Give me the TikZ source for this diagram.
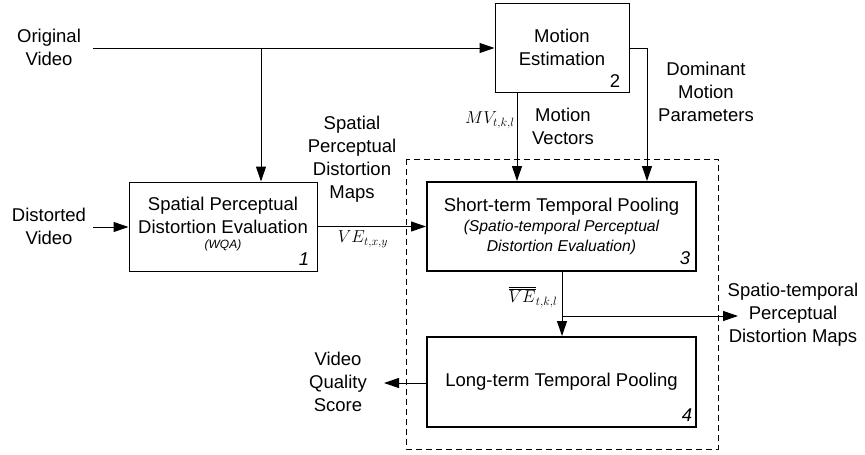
\documentclass[tikz,border=0pt]{standalone}
\usepackage{fontspec}
\setmainfont{Liberation Sans}
\usetikzlibrary{arrows.meta}
\tikzset{
  thinbox/.style={draw, line width=1pt, inner sep=0pt},
  thickbox/.style={draw, line width=2pt, inner sep=0pt},
  lbl/.style={align=center, font=\fontsize{18.5}{23}\selectfont, inner sep=0pt},
  sublbl/.style={align=center, font=\fontsize{15.7}{20}\selectfont\itshape, inner sep=0pt},
  numlbl/.style={font=\fontsize{18.5}{20}\selectfont\itshape, inner sep=0pt},
  arr/.style={line width=1pt, -{Triangle[length=15pt,width=10pt]}},
  mathlbl/.style={font=\fontsize{18}{20}\selectfont, inner sep=0pt}
}
\begin{document}
\begin{tikzpicture}[x=1pt,y=-1pt]
\useasboundingbox (0,0) rectangle (865,455);
% dashed container
\draw[line width=1pt, dash pattern=on 6pt off 4pt] (406,159) rectangle (718,449);
% boxes
\node[thinbox, minimum width=188pt, minimum height=89pt] (b1) at (223,226.5) {};
\node[thinbox, minimum width=134pt, minimum height=89pt] (b2) at (562,47.5) {};
\node[thickbox, minimum width=269pt, minimum height=89pt] (b3) at (561.5,226.5) {};
\node[thickbox, minimum width=269pt, minimum height=90pt] (b4) at (561.5,382) {};
% box texts
\node[lbl] (t1) at (223,215) {Spatial Perceptual\\Distortion Evaluation};
\node[font=\fontsize{12}{14}\selectfont\itshape, inner sep=0pt] (t1b) at (223,245) {(WQA)};
\node[numlbl] (n1) at (304,259) {1};
\node[lbl] (t2) at (562,47) {Motion\\Estimation};
\node[font=\fontsize{18.5}{20}\selectfont, inner sep=0pt] (n2) at (615,81) {2};
\node[lbl] (t3) at (561.5,207) {Short-term Temporal Pooling};
\node[sublbl] (t3b) at (561.5,237) {(Spatio-temporal Perceptual\\Distortion Evaluation)};
\node[numlbl] (n3) at (685,258) {3};
\node[lbl] (t4) at (561.5,382) {Long-term Temporal Pooling};
\node[numlbl] (n4) at (687,415) {4};
% outside labels
\node[lbl] (ovl) at (49,47) {Original\\Video};
\node[lbl] (dvl) at (49,226) {Distorted\\Video};
\node[lbl] (spm) at (352,159) {Spatial\\Perceptual\\Distortion\\Maps};
\node[mathlbl] (vel) at (363,239) {$VE_{t,x,y}$};
\node[mathlbl] (mvl) at (490,120) {$MV_{t,k,l}$};
\node[lbl] (mvt) at (563,126) {Motion\\Vectors};
\node[lbl] (dmp) at (706,92) {Dominant\\Motion\\Parameters};
\node[mathlbl] (vebar) at (533,297) {$\overline{\overline{VE}}_{t,k,l}$};
\node[lbl] (stm) at (793,315) {Spatio-temporal\\Perceptual\\Distortion Maps};
\node[lbl] (vqs) at (338,382) {Video\\Quality\\Score};
% coordinates
\coordinate (ov) at (93,48);
\coordinate (jn) at (261,48);
\coordinate (dv) at (93,227);
\coordinate (mvx) at (517,0);
\coordinate (dmx) at (647,48);
\coordinate (br) at (562,316);
\coordinate (stend) at (738,316);
\coordinate (vqend) at (384,383);
% connectors
\draw[arr] (ov) -- (ov -| b2.west);
\draw[arr] (jn) -- (jn |- b1.north);
\draw[arr] (dv) -- (dv -| b1.west);
\draw[arr] (b1.east) -- (b3.west);
\draw[arr] (b2.south -| mvx) -- (b3.north -| mvx);
\draw[arr] (dmx -| b2.east) -- (dmx) -- (dmx |- b3.north);
\draw[arr] (b3.south -| br) -- (b4.north -| br);
\draw[arr] (br) -- (stend);
\draw[arr] (vqend -| b4.west) -- (vqend);
\end{tikzpicture}
\end{document}
